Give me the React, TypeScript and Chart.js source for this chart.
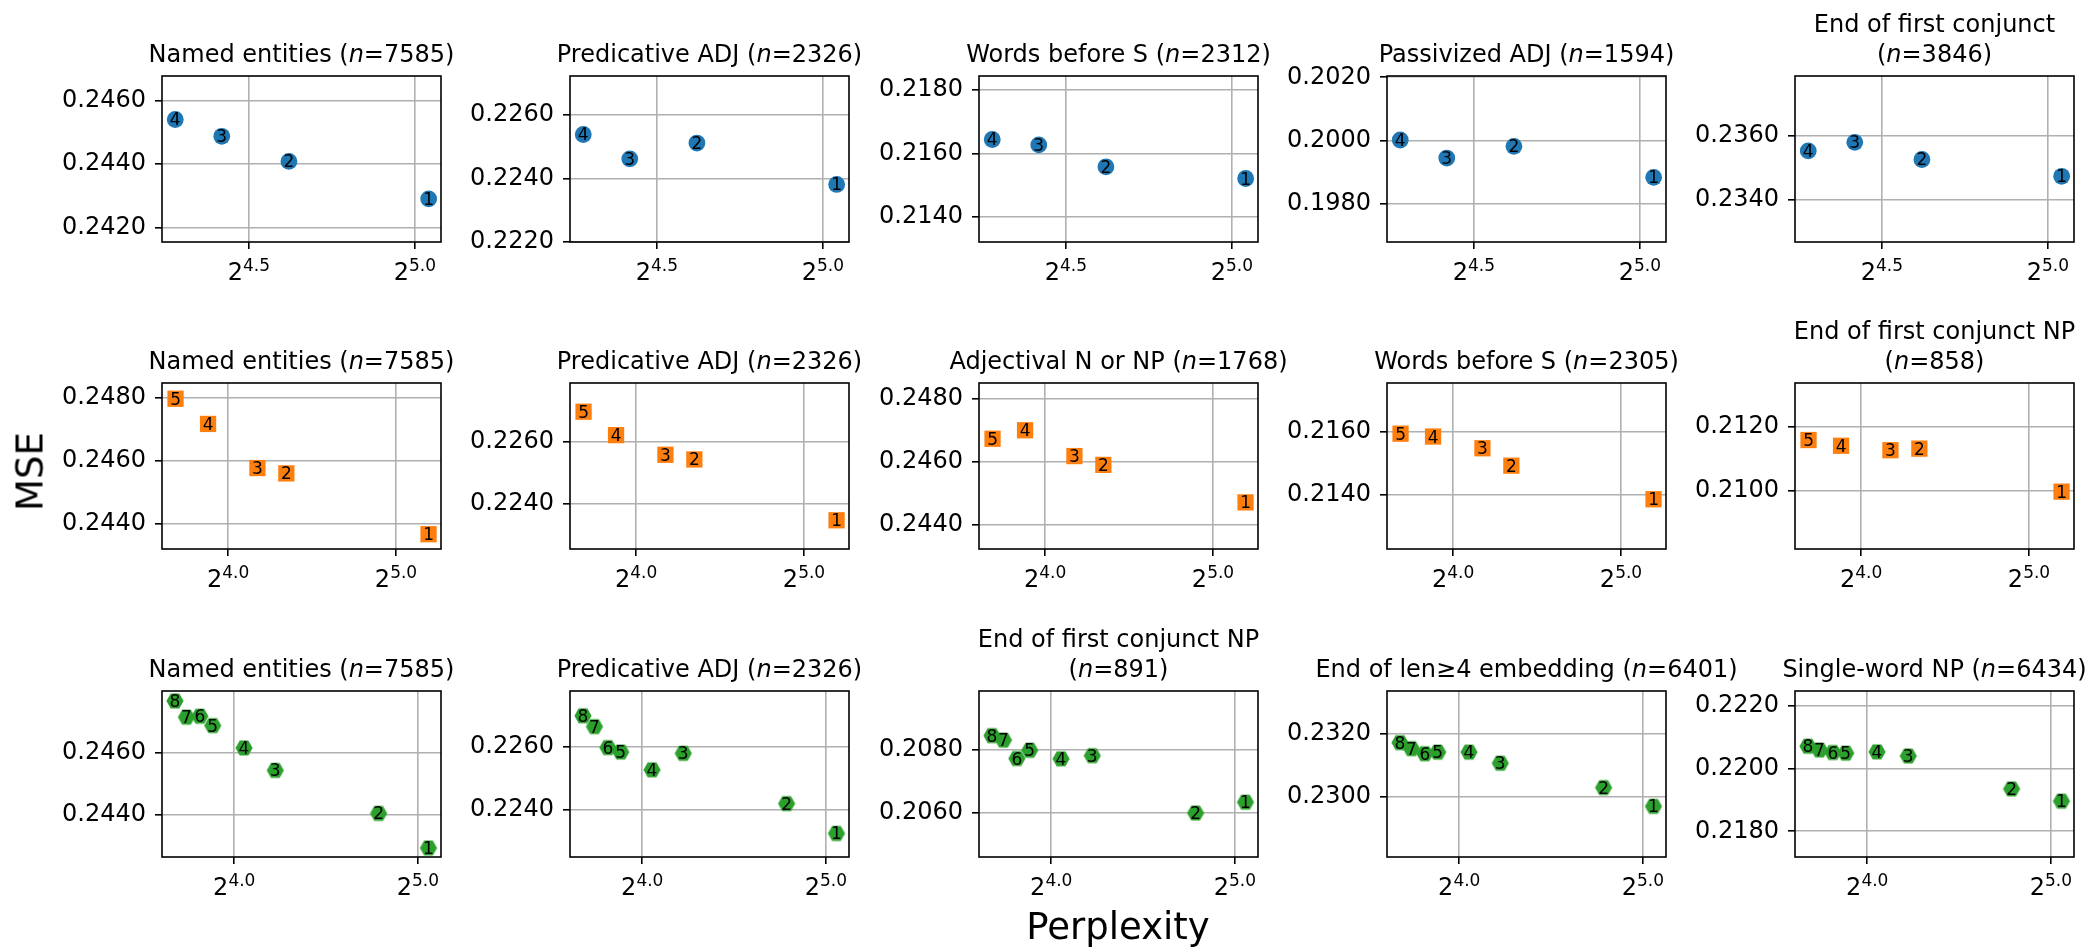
import React, { useEffect, useRef } from "react";
import { Chart, registerables } from "chart.js";

Chart.register(...registerables);

// ---------- data ----------
// Perplexities of the models (point labels 1..n in this order)
const ROW1_PERPLEXITY = [32.94, 24.6, 21.38, 19.4];
const ROW2_PERPLEXITY = [36.6, 20.35, 18.06, 14.73, 12.88];
const ROW3_PERPLEXITY = [33.31, 27.59, 18.68, 16.6, 14.75, 14.05, 13.36, 12.79];

const ROW1_TITLES = ["Named entities", "Predicative ADJ", "Words before S", "Passivized ADJ", "End of first conjunct\n"];
const ROW1_N = [7585, 2326, 2312, 1594, 3846];
const ROW2_TITLES = ["Named entities", "Predicative ADJ", "Adjectival N or NP", "Words before S", "End of first conjunct NP\n"];
const ROW2_N = [7585, 2326, 1768, 2305, 858];
const ROW3_TITLES = ["Named entities", "Predicative ADJ", "End of first conjunct NP\n", "End of len≥4 embedding", "Single-word NP"];
const ROW3_N = [7585, 2326, 891, 6401, 6434];

const ROW1_MSE = [
  [0.24291, 0.24409, 0.24488, 0.24541],
  [0.22381, 0.22512, 0.22462, 0.22539],
  [0.21521, 0.21558, 0.21627, 0.21644],
  [0.19884, 0.19982, 0.19945, 0.20002],
  [0.23473, 0.23526, 0.2358, 0.23553],
];
const ROW2_MSE = [
  [0.24368, 0.24561, 0.24578, 0.24718, 0.24798],
  [0.22347, 0.22542, 0.22557, 0.2262, 0.22695],
  [0.24472, 0.24591, 0.24619, 0.24701, 0.24674],
  [0.21387, 0.21493, 0.21548, 0.21585, 0.21594],
  [0.20997, 0.21132, 0.21127, 0.21141, 0.21159],
];
const ROW3_MSE = [
  [0.24293, 0.24404, 0.24542, 0.24614, 0.24686, 0.24716, 0.24713, 0.24765],
  [0.22327, 0.22421, 0.22579, 0.22527, 0.22583, 0.22597, 0.22663, 0.22697],
  [0.20634, 0.206, 0.2078, 0.2077, 0.20797, 0.20771, 0.20829, 0.20843],
  [0.22971, 0.2303, 0.23107, 0.23142, 0.23142, 0.23137, 0.23153, 0.23172],
  [0.21896, 0.21935, 0.2204, 0.22053, 0.22049, 0.22051, 0.22059, 0.22071],
];

const ROW1_Y_TICKS = [[0.242, 0.244, 0.246], [0.222, 0.224, 0.226], [0.214, 0.216, 0.218], [0.198, 0.2, 0.202], [0.234, 0.236]];
const ROW2_Y_TICKS = [[0.244, 0.246, 0.248], [0.224, 0.226], [0.244, 0.246, 0.248], [0.214, 0.216], [0.21, 0.212]];
const ROW3_Y_TICKS = [[0.244, 0.246], [0.224, 0.226], [0.206, 0.208], [0.23, 0.232], [0.218, 0.22, 0.222]];

const ROW1_Y_RANGE = [[0.24155, 0.24678], [0.22199, 0.22724], [0.21321, 0.21844], [0.1968, 0.20204], [0.23266, 0.23789]];
const ROW2_Y_RANGE = [[0.24321, 0.24848], [0.22255, 0.22787], [0.24324, 0.24851], [0.2123, 0.21754], [0.20817, 0.21338]];
const ROW3_Y_RANGE = [[0.24264, 0.24797], [0.22253, 0.22775], [0.20462, 0.20983], [0.22811, 0.23335], [0.21718, 0.22247]];

const X_RANGES = [[18.87, 33.8], [12.18, 38.53], [12.18, 34.92]];
const X_TICK_EXPONENTS = [[4.5, 5.0], [4.0, 5.0], [4.0, 5.0]];

// ---------- styling / layout ----------
const FAM = "'DejaVu Sans', sans-serif";
const COLORS = ["#1f77b4", "#ff7f0e", "#2ca02c"];
const MARKERS = ["circle", "rect", "hexagon"];

const COL_LEFT = [162, 570, 979, 1387, 1795];
const ROW_TOP = [76, 383, 691];
const PLOT_W = 279;
const PLOT_H = 166;
const PAD_L = 150;
const PAD_T = 82;
const PAD_R = 110;
const PAD_B = 52;
const CW = PAD_L + PLOT_W + PAD_R;
const CH = PAD_T + PLOT_H + PAD_B;

const ROWS = [
  { ppl: ROW1_PERPLEXITY, titles: ROW1_TITLES, ns: ROW1_N, mse: ROW1_MSE, yTicks: ROW1_Y_TICKS, yRange: ROW1_Y_RANGE },
  { ppl: ROW2_PERPLEXITY, titles: ROW2_TITLES, ns: ROW2_N, mse: ROW2_MSE, yTicks: ROW2_Y_TICKS, yRange: ROW2_Y_RANGE },
  { ppl: ROW3_PERPLEXITY, titles: ROW3_TITLES, ns: ROW3_N, mse: ROW3_MSE, yTicks: ROW3_Y_TICKS, yRange: ROW3_Y_RANGE },
];

function hexagonImage(color: string, R: number): HTMLCanvasElement {
  const size = Math.ceil(2 * R + 2);
  const c = document.createElement("canvas");
  c.width = size;
  c.height = size;
  const ctx = c.getContext("2d")!;
  ctx.fillStyle = color;
  ctx.beginPath();
  for (let k = 0; k < 6; k++) {
    const a = (Math.PI / 3) * k;
    const px = size / 2 + R * Math.cos(a);
    const py = size / 2 + R * Math.sin(a);
    if (k === 0) ctx.moveTo(px, py);
    else ctx.lineTo(px, py);
  }
  ctx.closePath();
  ctx.fill();
  return c;
}

type Seg = [string, string];

function drawSegs(ctx: CanvasRenderingContext2D, segs: Seg[], cx: number, y: number) {
  let total = 0;
  for (const [t, f] of segs) {
    ctx.font = f;
    total += ctx.measureText(t).width;
  }
  let x = cx - total / 2;
  for (const [t, f] of segs) {
    ctx.font = f;
    ctx.fillText(t, x, y);
    x += ctx.measureText(t).width;
  }
}

function Panel({ row, col }: { row: number; col: number }) {
  const ref = useRef<HTMLCanvasElement | null>(null);
  const left = COL_LEFT[col] - PAD_L;
  const top = ROW_TOP[row] - PAD_T;

  useEffect(() => {
    const r = ROWS[row];
    const color = COLORS[row];
    const marker = MARKERS[row];
    const pointStyle: any = marker === "hexagon" ? hexagonImage(color, 8.6) : marker;
    const radius = marker === "rect" ? 11.5 : 8.4;
    const data = r.ppl.map((p, i) => ({ x: p, y: r.mse[col][i] }));
    const title = r.titles[col];
    const n = r.ns[col];
    const xExps = X_TICK_EXPONENTS[row];
    const yTicks = r.yTicks[col];

    const deco = {
      id: "deco" + row + col,
      beforeDatasetsDraw(chart: any) {
        const { ctx, chartArea: a } = chart;
        ctx.save();
        ctx.strokeStyle = "#000";
        ctx.lineWidth = 1.6;
        ctx.strokeRect(a.left, a.top, a.right - a.left, a.bottom - a.top);
        ctx.restore();
      },
      afterDatasetsDraw(chart: any) {
        const { ctx } = chart;
        const meta = chart.getDatasetMeta(0);
        ctx.save();
        ctx.fillStyle = "#000";
        ctx.font = `17px ${FAM}`;
        ctx.textAlign = "center";
        ctx.textBaseline = "alphabetic";
        meta.data.forEach((el: any, i: number) => {
          ctx.fillText(String(i + 1), el.x, el.y + 6);
        });
        ctx.restore();
      },
      afterDraw(chart: any) {
        const { ctx, chartArea: a } = chart;
        const xs = chart.scales.x;
        ctx.save();
        ctx.fillStyle = "#000";
        ctx.textAlign = "left";
        ctx.textBaseline = "alphabetic";
        // x tick labels 2^{e}
        for (const e of xExps) {
          const px = xs.getPixelForValue(Math.pow(2, e));
          const base = "2";
          const sup = e.toFixed(1);
          ctx.font = `24px ${FAM}`;
          const wb = ctx.measureText(base).width;
          ctx.font = `17px ${FAM}`;
          const ws = ctx.measureText(sup).width;
          const x0 = px - (wb + ws) / 2;
          const by = a.bottom + 38;
          ctx.font = `24px ${FAM}`;
          ctx.fillText(base, x0, by);
          ctx.font = `17px ${FAM}`;
          ctx.fillText(sup, x0 + wb, by - 9);
        }
        // title
        const normal = `24px ${FAM}`;
        const italic = `italic 24px ${FAM}`;
        const cx = (a.left + a.right) / 2;
        const baseY = a.top - 14;
        if (title.endsWith("\n")) {
          drawSegs(ctx, [[title.trim(), normal]], cx, baseY - 30);
          drawSegs(ctx, [["(", normal], ["n", italic], [`=${n})`, normal]], cx, baseY);
        } else {
          drawSegs(ctx, [[title + " (", normal], ["n", italic], [`=${n})`, normal]], cx, baseY);
        }
        ctx.restore();
      },
    };

    const gridOpts = {
      color: "#b0b0b0",
      lineWidth: 1.6,
      tickColor: "#000",
      tickWidth: 1.6,
      tickLength: 7,
      drawTicks: true,
    };

    const chart = new Chart(ref.current!, {
      type: "scatter",
      data: {
        datasets: [
          {
            data,
            pointStyle,
            pointRadius: radius,
            pointHoverRadius: radius,
            backgroundColor: color,
            borderColor: color,
            borderWidth: 0,
          } as any,
        ],
      },
      options: {
        animation: false,
        responsive: false,
        events: [],
        layout: { padding: { left: 0, top: PAD_T, right: PAD_R, bottom: 0 } },
        plugins: { legend: { display: false }, tooltip: { enabled: false }, title: { display: false } },
        scales: {
          x: {
            type: "logarithmic",
            min: X_RANGES[row][0],
            max: X_RANGES[row][1],
            afterBuildTicks: (s: any) => {
              s.ticks = xExps.map((e) => ({ value: Math.pow(2, e) }));
            },
            afterFit: (s: any) => {
              s.height = PAD_B;
            },
            ticks: { display: false },
            grid: gridOpts,
            border: { display: false },
          },
          y: {
            type: "linear",
            min: r.yRange[col][0],
            max: r.yRange[col][1],
            afterBuildTicks: (s: any) => {
              s.ticks = yTicks.map((v) => ({ value: v }));
            },
            afterFit: (s: any) => {
              s.width = PAD_L;
            },
            ticks: {
              callback: (v: any) => Number(v).toFixed(4),
              font: { family: FAM, size: 24 },
              color: "#000",
              padding: 9,
              autoSkip: false,
            },
            grid: gridOpts,
            border: { display: false },
          },
        },
      } as any,
      plugins: [deco],
    });
    return () => chart.destroy();
  }, [row, col]);

  return (
    <canvas
      ref={ref}
      width={CW}
      height={CH}
      style={{ position: "absolute", left, top, width: CW, height: CH }}
    />
  );
}

export default function App() {
  const panels = [];
  for (let r = 0; r < 3; r++) for (let c = 0; c < 5; c++) panels.push(<Panel key={`${r}-${c}`} row={r} col={c} />);
  return (
    <div style={{ position: "absolute", left: 0, top: 0, width: 2094, height: 949, background: "#fff", overflow: "hidden", fontFamily: FAM }}>
      {panels}
      <div
        style={{
          position: "absolute",
          left: 30 - 100,
          top: 471.5 - 18.5,
          width: 200,
          height: 37,
          lineHeight: "37px",
          fontSize: 37,
          textAlign: "center",
          transform: "rotate(-90deg)",
          color: "#000",
        }}
      >
        MSE
      </div>
      <div
        style={{
          position: "absolute",
          left: 1118 - 300,
          top: 908,
          width: 600,
          height: 37,
          lineHeight: "37px",
          fontSize: 37,
          textAlign: "center",
          color: "#000",
        }}
      >
        Perplexity
      </div>
    </div>
  );
}
